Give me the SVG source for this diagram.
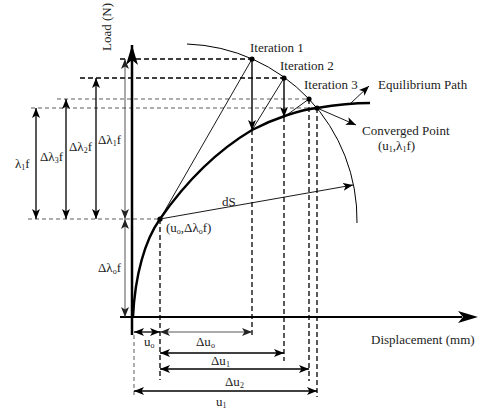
<svg xmlns="http://www.w3.org/2000/svg" width="479" height="411" viewBox="0 0 479 411">
<defs>
<marker id="ah" viewBox="0 0 10 8" refX="10" refY="4" markerWidth="10" markerHeight="8" markerUnits="userSpaceOnUse" orient="auto-start-reverse">
<path d="M0,0 L10,4 L0,8 L2.5,4 Z" fill="#000"/>
</marker>
<marker id="ahg" viewBox="0 0 10 8" refX="10" refY="4" markerWidth="10" markerHeight="8" markerUnits="userSpaceOnUse" orient="auto-start-reverse">
<path d="M0,0 L10,4 L0,8 L2.5,4 Z" fill="#222"/>
</marker>
<marker id="big" viewBox="0 0 20 12" refX="20" refY="6" markerWidth="20" markerHeight="12" markerUnits="userSpaceOnUse" orient="auto">
<path d="M0,0 L20,6 L0,12 L5,6 Z" fill="#000"/>
</marker>
</defs>
<style>
text{font-family:'Liberation Serif','DejaVu Serif',serif;font-size:13px;fill:#222}
.sub{font-size:8px}
.d1{stroke:#000;stroke-width:1.3;stroke-dasharray:5 3;fill:none}
.d2{stroke:#333;stroke-width:0.8;stroke-dasharray:4 3;fill:none}
.dim{stroke:#000;stroke-width:1.3;fill:none}
.dimg{stroke:#444;stroke-width:0.9;fill:none}
.thin{stroke:#000;stroke-width:0.9;fill:none}
.dot{fill:#000}
</style>

<g id="guides">
<line class="d1" x1="120" y1="59" x2="252" y2="59"/>
<line class="d1" x1="80" y1="78" x2="284" y2="78"/>
<line class="d2" x1="57" y1="99" x2="309" y2="99"/>
<line class="d2" x1="31" y1="108" x2="317" y2="108"/>
<line class="d2" x1="28" y1="219" x2="160" y2="219"/>
<line class="d2" x1="134" y1="335" x2="134" y2="397"/>
<line class="d1" x1="160" y1="219" x2="160" y2="380"/>
<line class="d1" x1="252" y1="130" x2="252" y2="338"/>
<line class="d1" x1="284" y1="117" x2="284" y2="361"/>
<line class="d1" x1="309" y1="99" x2="309" y2="381"/>
<line class="d1" x1="317" y1="108" x2="317" y2="397"/>
</g>

<g id="axes">
<line x1="132" y1="335" x2="132" y2="45" stroke="#000" stroke-width="2.5" marker-end="url(#big)"/>
<line x1="120" y1="317" x2="462" y2="317" stroke="#000" stroke-width="2.2"/>
<path d="M478,317 L458,311 L463,317 L458,323 Z" fill="#000"/>
<text transform="translate(111,27) rotate(-90)" text-anchor="middle" font-family="Liberation Serif, serif">Load (N)</text>
<text x="371" y="344" font-family="Liberation Serif, serif">Displacement (mm)</text>
</g>

<g id="equilibrium-path">
<path d="M133,317 C135,275 145,240 160,219 C185,183 215,152 252,130 C275,118 300,110 317,108 C335,105 352,103 370,103" fill="none" stroke="#000" stroke-width="2.4"/>
<line class="thin" x1="351" y1="103" x2="369" y2="86" marker-end="url(#ah)"/>
<text x="378" y="89" font-family="Liberation Serif, serif">Equilibrium Path</text>
</g>

<g id="arc">
<path d="M187,44 A176,176 0 0 1 357,223" fill="none" stroke="#000" stroke-width="1"/>
</g>

<g id="connectors">
<line class="thin" x1="160" y1="219" x2="252" y2="59"/>
<line x1="252" y1="59" x2="252" y2="130" stroke="#000" stroke-width="1.4" marker-end="url(#ah)"/>
<line class="thin" x1="252" y1="130" x2="284" y2="78"/>
<line x1="284" y1="78" x2="284" y2="117" stroke="#000" stroke-width="1.4" marker-end="url(#ah)"/>
<line class="thin" x1="284" y1="117" x2="309" y2="99"/>
<line class="thin" x1="317" y1="108" x2="356" y2="125" marker-end="url(#ah)"/>
<line class="thin" x1="160" y1="219" x2="353" y2="185" marker-end="url(#ah)"/>
</g>

<g id="points">
<circle class="dot" cx="252" cy="59" r="2.6"/>
<circle class="dot" cx="284" cy="78" r="2.6"/>
<circle class="dot" cx="309" cy="99" r="2.6"/>
<circle class="dot" cx="317" cy="108" r="2.6"/>
<circle class="dot" cx="160" cy="219" r="2.6"/>
</g>

<g id="labels" font-family="Liberation Serif, serif">
<text x="250" y="52">Iteration 1</text>
<text x="280" y="70">Iteration 2</text>
<text x="304" y="89">Iteration 3</text>
<text x="362" y="135">Converged Point</text>
<text x="378" y="150">(u<tspan class="sub" dy="2">1</tspan><tspan dy="-2">,λ</tspan><tspan class="sub" dy="2">1</tspan><tspan dy="-2">f)</tspan></text>
<text x="222" y="206">dS</text>
<text x="166" y="232">(u<tspan class="sub" dy="2">o</tspan><tspan dy="-2">,Δλ</tspan><tspan class="sub" dy="2">o</tspan><tspan dy="-2">f)</tspan></text>
</g>

<g id="vertical-dims" font-family="Liberation Serif, serif">
<line class="dim" x1="36" y1="108" x2="36" y2="219" marker-start="url(#ah)" marker-end="url(#ah)"/>
<line class="dim" x1="66" y1="99" x2="66" y2="219" marker-start="url(#ah)" marker-end="url(#ah)"/>
<line class="dim" x1="96" y1="78" x2="96" y2="219" marker-start="url(#ah)" marker-end="url(#ah)"/>
<line class="dimg" x1="125" y1="59" x2="125" y2="219" marker-start="url(#ahg)" marker-end="url(#ahg)"/>
<line class="dimg" x1="125" y1="219" x2="125" y2="317" marker-start="url(#ahg)" marker-end="url(#ahg)"/>
<text x="15" y="168">λ<tspan class="sub" dy="2">1</tspan><tspan dy="-2">f</tspan></text>
<text x="40" y="161">Δλ<tspan class="sub" dy="2">3</tspan><tspan dy="-2">f</tspan></text>
<text x="69" y="151">Δλ<tspan class="sub" dy="2">2</tspan><tspan dy="-2">f</tspan></text>
<text x="98" y="144">Δλ<tspan class="sub" dy="2">1</tspan><tspan dy="-2">f</tspan></text>
<text x="98" y="272">Δλ<tspan class="sub" dy="2">o</tspan><tspan dy="-2">f</tspan></text>
</g>

<g id="horizontal-dims" font-family="Liberation Serif, serif">
<line class="dim" x1="134" y1="332" x2="160" y2="332" marker-start="url(#ah)" marker-end="url(#ah)"/>
<line class="dimg" x1="160" y1="332" x2="252" y2="332" marker-start="url(#ahg)" marker-end="url(#ahg)"/>
<line class="dim" x1="160" y1="353" x2="284" y2="353" marker-start="url(#ah)" marker-end="url(#ah)"/>
<line class="dim" x1="160" y1="369" x2="309" y2="369" marker-start="url(#ah)" marker-end="url(#ah)"/>
<line class="dim" x1="134" y1="391" x2="317" y2="391" marker-start="url(#ah)" marker-end="url(#ah)"/>
<text x="144" y="346">u<tspan class="sub" dy="2">o</tspan></text>
<text x="196" y="346">Δu<tspan class="sub" dy="2">o</tspan></text>
<text x="211" y="365">Δu<tspan class="sub" dy="2">1</tspan></text>
<text x="225" y="386">Δu<tspan class="sub" dy="2">2</tspan></text>
<text x="216" y="406">u<tspan class="sub" dy="2">1</tspan></text>
</g>
</svg>
